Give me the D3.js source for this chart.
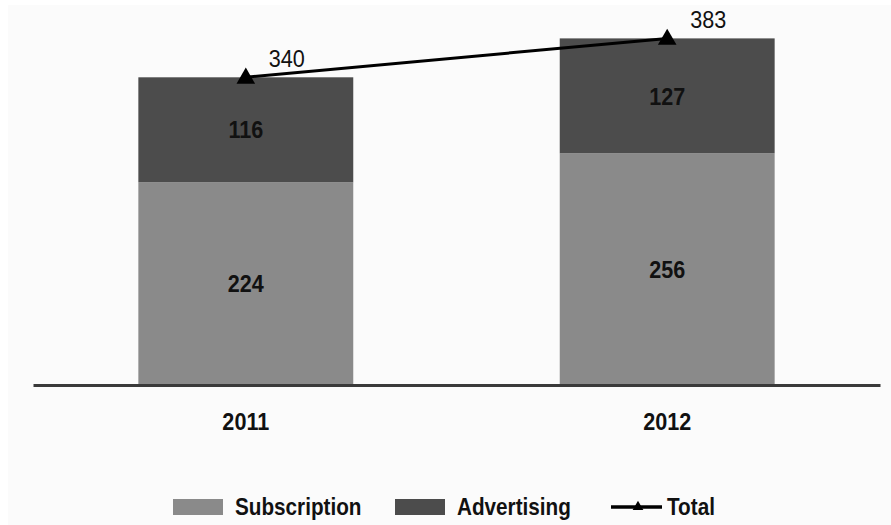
<!DOCTYPE html>
<html>
<head>
<meta charset="utf-8">
<script src="https://cdn.jsdelivr.net/npm/d3@7"></script>
<style>
  body { margin: 0; background: #ffffff; }
  text { font-family: "Liberation Sans", Arial, sans-serif; fill: #111; }
</style>
</head>
<body>
<div id="chart"></div>
<script>
// Data
var years = ["2011", "2012"];
var subscription = [224, 256];
var advertising = [116, 127];
var totals = [340, 383];
var seriesNames = ["Subscription", "Advertising", "Total"];

var width = 891;
var height = 525;

// narrow-ish lettering like the original
var squeeze = 0.9;
function place(px, py) {
    return "translate(" + px + "," + py + ") scale(" + squeeze + ",1)";
}

var svg = d3.select("#chart")
    .append("svg")
    .attr("width", width)
    .attr("height", height);

// faint panel background
svg.append("rect")
    .attr("x", 8)
    .attr("y", 5)
    .attr("width", width - 8)
    .attr("height", height - 5)
    .attr("fill", "#fbfbfb");

var x = d3.scaleBand()
    .domain(years)
    .range([33, 880])
    .paddingInner(0.49)
    .paddingOuter(0.25);

var y = d3.scaleLinear()
    .domain([0, 400])
    .range([385, 23]);

var colors = { Subscription: "#8a8a8a", Advertising: "#4c4c4c" };

var rows = years.map(function(yr, i) {
    return { year: yr, Subscription: subscription[i], Advertising: advertising[i] };
});

var stack = d3.stack().keys(["Subscription", "Advertising"]);
var layers = stack(rows);

var layerG = svg.selectAll(".layer")
    .data(layers)
    .enter()
    .append("g")
    .attr("class", "layer")
    .attr("fill", function(d) { return colors[d.key]; });

layerG.selectAll("rect")
    .data(function(d) { return d; })
    .enter()
    .append("rect")
    .attr("x", function(d) { return x(d.data.year); })
    .attr("y", function(d) { return y(d[1]); })
    .attr("width", x.bandwidth())
    .attr("height", function(d) { return y(d[0]) - y(d[1]); });

// value labels inside segments
layerG.selectAll("text")
    .data(function(d) { return d; })
    .enter()
    .append("text")
    .attr("transform", function(d) {
        return place(x(d.data.year) + x.bandwidth() / 2, (y(d[0]) + y(d[1])) / 2);
    })
    .attr("dy", "0.36em")
    .attr("text-anchor", "middle")
    .attr("font-size", 24)
    .attr("font-weight", "bold")
    .text(function(d) { return d[1] - d[0]; });

// baseline axis
var xAxis = d3.axisBottom(x).tickSize(0).tickPadding(0);
var axisG = svg.append("g")
    .attr("transform", "translate(0," + y(0) + ")")
    .call(xAxis);
axisG.select(".domain")
    .attr("stroke", "#3a3a3a")
    .attr("stroke-width", 3);
axisG.selectAll(".tick text")
    .attr("y", 0)
    .attr("dy", 0)
    .attr("transform", place(0, 45))
    .attr("font-size", 24)
    .attr("font-weight", "bold")
    .attr("font-family", "Liberation Sans, Arial, sans-serif")
    .attr("fill", "#111");

// total line
var cx = function(i) { return x(years[i]) + x.bandwidth() / 2; };
var line = d3.line()
    .x(function(d, i) { return cx(i); })
    .y(function(d) { return y(d); });

svg.append("path")
    .datum(totals)
    .attr("d", line)
    .attr("fill", "none")
    .attr("stroke", "#000")
    .attr("stroke-width", 3);

var tri = d3.symbol().type(d3.symbolTriangle).size(150);

svg.selectAll(".marker")
    .data(totals)
    .enter()
    .append("path")
    .attr("class", "marker")
    .attr("d", tri)
    .attr("transform", function(d, i) { return "translate(" + cx(i) + "," + (y(d) + 1) + ")"; })
    .attr("fill", "#000");

svg.selectAll(".totalLabel")
    .data(totals)
    .enter()
    .append("text")
    .attr("class", "totalLabel")
    .attr("transform", function(d, i) { return place(cx(i) + 41, y(d) - 10); })
    .attr("text-anchor", "middle")
    .attr("font-size", 24)
    .text(function(d) { return d; });

// legend
var legendX = [173, 395, 611];
var legend = svg.selectAll(".legend")
    .data(seriesNames)
    .enter()
    .append("g")
    .attr("class", "legend")
    .attr("transform", function(d, i) { return "translate(" + legendX[i] + ",507)"; });

legend.each(function(d) {
    var g = d3.select(this);
    var tx = 62;
    if (d === "Total") {
        g.append("line")
            .attr("x1", 0).attr("x2", 51)
            .attr("y1", 0).attr("y2", 0)
            .attr("stroke", "#000")
            .attr("stroke-width", 3.5);
        g.append("path")
            .attr("d", d3.symbol().type(d3.symbolTriangle).size(50))
            .attr("transform", "translate(27,0)")
            .attr("fill", "#000");
        tx = 56;
    } else {
        g.append("rect")
            .attr("x", 0)
            .attr("y", -8)
            .attr("width", 50)
            .attr("height", 16)
            .attr("fill", colors[d]);
    }
    g.append("text")
        .attr("transform", place(tx, 0))
        .attr("dy", "0.36em")
        .attr("font-size", 23)
        .attr("font-weight", "bold")
        .text(d);
});
</script>
</body>
</html>
